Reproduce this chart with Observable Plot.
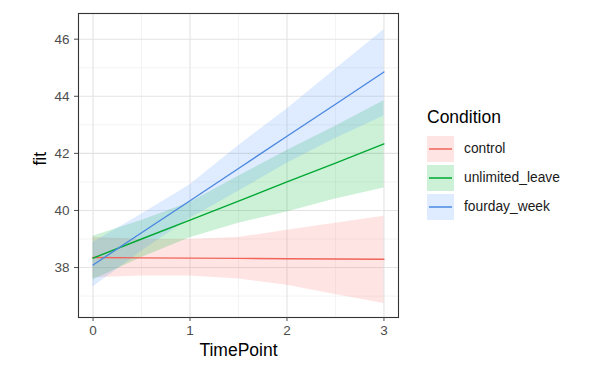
<!DOCTYPE html>
<html>
<head>
<meta charset="utf-8">
<script src="https://cdn.jsdelivr.net/npm/d3@7"></script>
<script src="https://cdn.jsdelivr.net/npm/@observablehq/plot@0.6"></script>
<style>
  html, body { margin: 0; padding: 0; background: #fff; }
  #wrap { position: relative; width: 600px; height: 371px; font-family: "Liberation Sans", Arial, sans-serif; }
  #legend { position: absolute; left: 427px; top: 106px; }
  #legend .title { font-size: 17.5px; color: #000; margin-bottom: 6px; line-height: 22px; }
  #legend .row { display: flex; align-items: center; height: 29px; }
  #legend .lbl { font-size: 13.8px; color: #1a1a1a; margin-left: 10px; }
</style>
</head>
<body>
<div id="wrap"><div id="chart"></div><div id="legend"></div></div>
<script>
// ---- data ----
const conditions = ["control", "unlimited_leave", "fourday_week"];
const colors = ["#F8766D", "#00BA38", "#619CFF"];
const lineColors = ["#F0645A", "#00A832", "#4A88E0"];
const timePoints = [0, 0.5, 1, 1.5, 2, 2.5, 3];

const controlFit   = [38.35, 38.34, 38.33, 38.32, 38.31, 38.30, 38.29];
const controlLower = [37.64, 37.70, 37.70, 37.60, 37.38, 37.06, 36.74];
const controlUpper = [39.06, 38.98, 38.98, 39.05, 39.31, 39.55, 39.80];

const unlimitedFit   = [38.33, 39.00, 39.66, 40.33, 41.00, 41.66, 42.33];
const unlimitedLower = [37.56, 38.35, 39.04, 39.55, 39.95, 40.40, 40.79];
const unlimitedUpper = [39.10, 39.65, 40.28, 41.20, 42.10, 42.95, 43.84];

const fourdayFit   = [38.09, 39.22, 40.34, 41.47, 42.60, 43.72, 44.85];
const fourdayLower = [37.32, 38.57, 39.72, 40.67, 41.65, 42.52, 43.31];
const fourdayUpper = [38.88, 39.87, 40.90, 42.27, 43.55, 44.95, 46.33];

const xTicks = [0, 1, 2, 3];
const yTicks = [38, 40, 42, 44, 46];
const xMinor = [0.5, 1.5, 2.5];
const yMinor = [37, 39, 41, 43, 45];

// ---- build long table ----
const series = [
  [controlFit, controlLower, controlUpper],
  [unlimitedFit, unlimitedLower, unlimitedUpper],
  [fourdayFit, fourdayLower, fourdayUpper]
];
const rows = [];
conditions.forEach((c, i) => {
  timePoints.forEach((t, j) => {
    rows.push({Condition: c, TimePoint: t, fit: series[i][0][j], lower: series[i][1][j], upper: series[i][2][j]});
  });
});

const font = "Liberation Sans, Arial, sans-serif";
const chart = Plot.plot({
  width: 600,
  height: 371,
  marginLeft: 78,
  marginRight: 202,
  marginTop: 13,
  marginBottom: 54,
  style: {fontFamily: font, background: "#fff"},
  x: {domain: [-0.15, 3.15]},
  y: {domain: [36.25, 46.9]},
  color: {domain: conditions, range: colors},
  marks: [
    Plot.ruleX(xMinor, {stroke: "#ebebeb", strokeWidth: 0.6}),
    Plot.ruleY(yMinor, {stroke: "#ebebeb", strokeWidth: 0.6}),
    Plot.ruleX(xTicks, {stroke: "#e3e3e3", strokeWidth: 1.1}),
    Plot.ruleY(yTicks, {stroke: "#e3e3e3", strokeWidth: 1.1}),
    Plot.areaY(rows, {x: "TimePoint", y1: "lower", y2: "upper", fill: "Condition", fillOpacity: 0.2, z: "Condition"}),
    Plot.lineY(rows, {x: "TimePoint", y: "fit", stroke: d => lineColors[conditions.indexOf(d.Condition)], strokeWidth: 1.4, z: "Condition"}),
    Plot.frame({stroke: "#333333", strokeWidth: 1.1}),
    Plot.axisX(xTicks, {tickSize: 4, tickPadding: 4, fontSize: 13.5, color: "#4d4d4d", label: null}),
    Plot.axisY(yTicks, {tickSize: 4, tickPadding: 5, fontSize: 13.5, color: "#4d4d4d", label: null}),
    Plot.text(["TimePoint"], {frameAnchor: "bottom", dy: 38, fontSize: 17.5, fill: "#000"}),
    Plot.text(["fit"], {frameAnchor: "left", dx: -38, rotate: -90, fontSize: 17.5, fill: "#000"})
  ]
});
document.getElementById("chart").appendChild(chart);

// ---- legend ----
const legend = document.getElementById("legend");
const title = document.createElement("div");
title.className = "title";
title.textContent = "Condition";
legend.appendChild(title);
conditions.forEach((c, i) => {
  const row = document.createElement("div");
  row.className = "row";
  const key = d3.create("svg").attr("width", 27).attr("height", 26);
  key.append("rect").attr("width", 27).attr("height", 26).attr("fill", colors[i]).attr("fill-opacity", 0.2);
  key.append("line").attr("x1", 2).attr("x2", 25).attr("y1", 13).attr("y2", 13)
    .attr("stroke", lineColors[i]).attr("stroke-width", 1.5);
  row.appendChild(key.node());
  const lbl = document.createElement("span");
  lbl.className = "lbl";
  lbl.textContent = c;
  row.appendChild(lbl);
  legend.appendChild(row);
});
</script>
</body>
</html>
